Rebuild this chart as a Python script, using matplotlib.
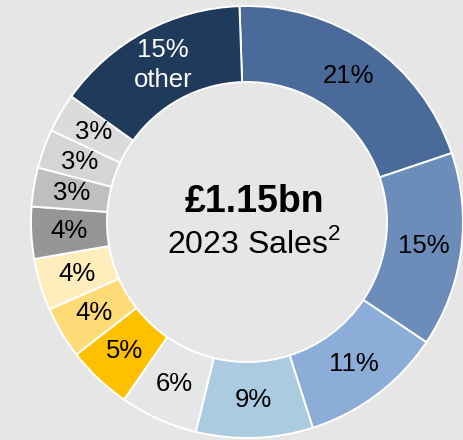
import numpy as np
import matplotlib
matplotlib.use("Agg")
import matplotlib.pyplot as plt

plt.rcParams["font.family"] = ["Liberation Sans", "DejaVu Sans"]
plt.rcParams["mathtext.fontset"] = "custom"
plt.rcParams["mathtext.rm"] = "Liberation Sans"

# sales share by segment, clockwise from the top
shares = [21, 15, 11, 9, 6, 5, 4, 4, 4, 3, 3, 3, 15]
labels = ["21%", "15%", "11%", "9%", "6%", "5%", "4%", "4%", "4%", "3%", "3%", "3%", "15%\nother"]
colors = ["#4a6a9a", "#6c8cba", "#8badd7", "#abcbe0", "#e5e6e8", "#ffc000",
          "#ffdb78", "#ffedbb", "#969696", "#bfbfbf", "#d5d5d5", "#dadbdc", "#203a5c"]
label_colors = ["black"] * 12 + ["white"]

total_text = "£1.15bn"
sub_text = "2023 Sales$^2$"

BG = "#e6e6e6"
W, H = 464, 440
cx, cy = 247, H - 222
r_out, r_in = 216, 140

fig = plt.figure(figsize=(W / 100, H / 100), dpi=100, facecolor=BG)
ax = fig.add_axes([0, 0, 1, 1])
ax.set_facecolor(BG)

wedges, _ = ax.pie(shares, colors=colors, startangle=92, counterclock=False,
                   center=(cx, cy), radius=r_out, frame=True,
                   wedgeprops=dict(width=r_out - r_in, edgecolor="white", linewidth=1.4))

r_lab = (r_out + r_in) / 2
for w, lab, c in zip(wedges, labels, label_colors):
    ang = np.deg2rad((w.theta1 + w.theta2) / 2)
    ax.text(cx + r_lab * np.cos(ang), cy + r_lab * np.sin(ang), lab,
            ha="center", va="center", fontsize=18.5, color=c, linespacing=1.35)

ax.text(cx + 7, cy + 20, total_text, ha="center", va="center", fontsize=27, fontweight="bold")
ax.text(cx + 7, cy - 22, sub_text, ha="center", va="center", fontsize=23)

ax.set_xlim(0, W)
ax.set_ylim(0, H)
ax.set_aspect("equal")
ax.axis("off")

fig.savefig("out.png", dpi=100, facecolor=BG)
